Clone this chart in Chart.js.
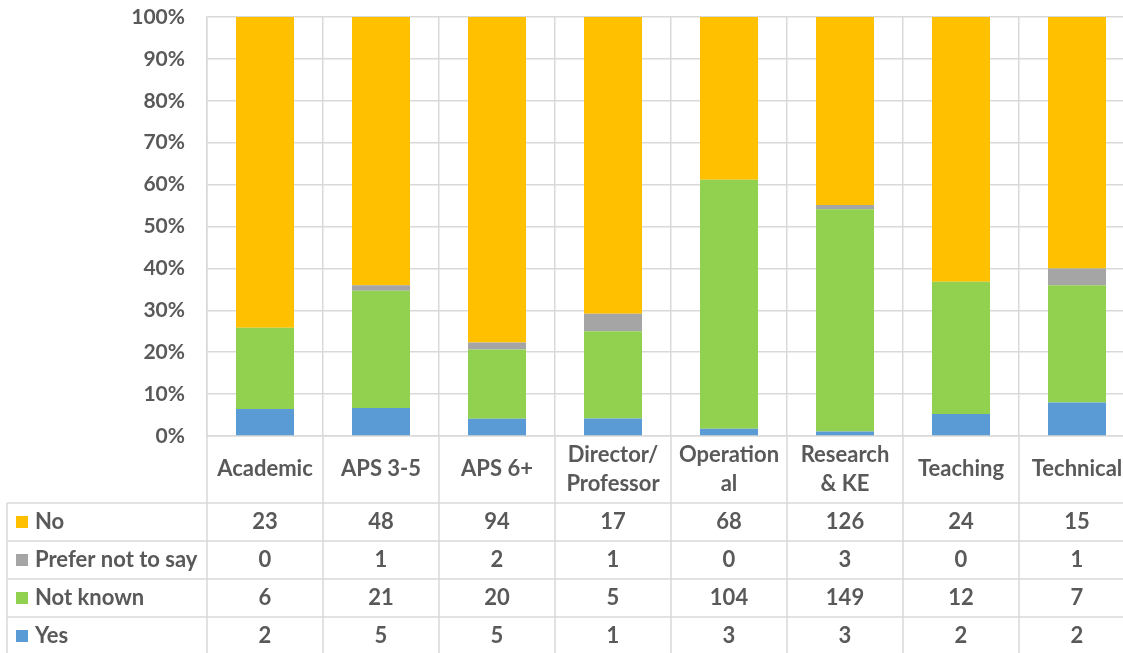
<!DOCTYPE html>
<html lang="en">
  <head>
    <meta charset="UTF-8" />
    <meta name="viewport" content="width=device-width, initial-scale=1.0" />
    <script src="https://cdn.jsdelivr.net/npm/chart.js@4.4.1/dist/chart.umd.min.js"></script>
    <title>Staff by category</title>
    <style>
      html, body { margin: 0; padding: 0; background: #fff; overflow: hidden; }
      #wrap { width: 1135px; height: 653px; position: relative; }
    </style>
  </head>
  <body>
    <div id="wrap">
      <canvas id="myChart"></canvas>
    </div>
    <script>
      // categories (multi-line labels like the excel table header)
      const categories = [
        ["Academic"],
        ["APS 3-5"],
        ["APS 6+"],
        ["Director/", "Professor"],
        ["Operation", "al"],
        ["Research", "& KE"],
        ["Teaching"],
        ["Technical"],
      ];
      const noCounts = [23, 48, 94, 17, 68, 126, 24, 15];
      const preferCounts = [0, 1, 2, 1, 0, 3, 0, 1];
      const notKnownCounts = [6, 21, 20, 5, 104, 149, 12, 7];
      const yesCounts = [2, 5, 5, 1, 3, 3, 2, 2];

      const colors = {
        no: "#FFC000",
        prefer: "#A5A5A5",
        notKnown: "#92D050",
        yes: "#5B9BD5",
      };
      const textColor = "#595959";
      const gridColor = "#d9d9d9";
      const fontFamily = "Lato, 'Open Sans', sans-serif";

      // 100% stacked -> percent of each column total
      const totals = noCounts.map(
        (v, i) => v + preferCounts[i] + notKnownCounts[i] + yesCounts[i]
      );
      function pct(arr) {
        return arr.map((v, i) => (v / totals[i]) * 100);
      }

      // rows of the data table, top to bottom
      const tableRows = [
        { label: "No", color: colors.no, values: noCounts },
        { label: "Prefer not to say", color: colors.prefer, values: preferCounts },
        { label: "Not known", color: colors.notKnown, values: notKnownCounts },
        { label: "Yes", color: colors.yes, values: yesCounts },
      ];

      const ROW_H = 38;
      const HEADER_H = 66;
      const LINE_H = 29;

      const tablePlugin = {
        id: "dataTable",
        afterDraw(chart) {
          const ctx = chart.ctx;
          const xs = chart.scales.x;
          const area = chart.chartArea;
          const half = (xs.getPixelForValue(1) - xs.getPixelForValue(0)) / 2;
          const tableTop = area.bottom + HEADER_H + 1;
          const bottom = chart.height + 5;
          const right = xs.getPixelForValue(categories.length - 1) + half;

          ctx.save();
          ctx.strokeStyle = gridColor;
          ctx.lineWidth = 1.5;

          // vertical column lines through header + table
          for (let i = 0; i <= categories.length; i++) {
            const x = xs.getPixelForValue(i) - half;
            ctx.beginPath();
            ctx.moveTo(x, area.bottom);
            ctx.lineTo(x, bottom);
            ctx.stroke();
          }
          // left border of row labels
          ctx.beginPath();
          ctx.moveTo(7, tableTop);
          ctx.lineTo(7, bottom);
          ctx.stroke();
          // horizontal row lines
          for (let r = 0; r <= tableRows.length; r++) {
            const y = tableTop + r * ROW_H;
            ctx.beginPath();
            ctx.moveTo(7, y);
            ctx.lineTo(right, y);
            ctx.stroke();
          }

          ctx.font = "bold 22px " + fontFamily;
          ctx.textBaseline = "middle";

          // header: category names centred in the header cell
          ctx.fillStyle = textColor;
          ctx.textAlign = "center";
          const headMid = area.bottom + HEADER_H / 2;
          categories.forEach((lines, i) => {
            const x = xs.getPixelForValue(i);
            const y0 = headMid - ((lines.length - 1) * LINE_H) / 2;
            lines.forEach((t, k) => ctx.fillText(t, x, y0 + k * LINE_H));
          });

          tableRows.forEach((row, r) => {
            const cy = tableTop + r * ROW_H + ROW_H / 2;
            ctx.fillStyle = row.color;
            ctx.fillRect(16, cy - 6, 12, 12);
            ctx.fillStyle = textColor;
            ctx.textAlign = "left";
            ctx.fillText(row.label, 35, cy);
            ctx.textAlign = "center";
            row.values.forEach((v, i) => {
              ctx.fillText(String(v), xs.getPixelForValue(i), cy);
            });
          });
          ctx.restore();
        },
      };

      const ctx = document.getElementById("myChart");
      new Chart(ctx, {
        type: "bar",
        data: {
          labels: categories,
          datasets: [
            { label: "Yes", data: pct(yesCounts), backgroundColor: colors.yes },
            { label: "Not known", data: pct(notKnownCounts), backgroundColor: colors.notKnown },
            { label: "Prefer not to say", data: pct(preferCounts), backgroundColor: colors.prefer },
            { label: "No", data: pct(noCounts), backgroundColor: colors.no },
          ],
        },
        options: {
          responsive: true,
          maintainAspectRatio: false,
          animation: false,
          datasets: {
            bar: { barPercentage: 1, categoryPercentage: 0.5, borderWidth: 0 },
          },
          layout: {
            padding: { top: 17, right: 0, bottom: 653 - 436 - HEADER_H, left: 0 },
          },
          plugins: {
            legend: { display: false },
            tooltip: { enabled: false },
          },
          scales: {
            x: {
              stacked: true,
              afterFit: (s) => {
                s.height = HEADER_H;
                s.paddingLeft = 0;
                s.paddingRight = 0;
              },
              grid: {
                color: gridColor,
                lineWidth: 1.5,
                drawTicks: false,
                offset: true,
              },
              border: { display: true, color: gridColor, width: 1.5 },
              ticks: { display: false },
            },
            y: {
              stacked: true,
              min: 0,
              max: 100,
              afterFit: (s) => {
                s.width = 207;
                s.paddingTop = 0;
                s.paddingBottom = 0;
              },
              grid: { color: gridColor, lineWidth: 1.5, drawTicks: false },
              border: { display: true, color: gridColor, width: 1.5 },
              ticks: {
                stepSize: 10,
                padding: 22,
                color: textColor,
                font: { family: fontFamily, size: 21, weight: "bold" },
                callback: (v) => v + "%",
              },
            },
          },
        },
        plugins: [tablePlugin],
      });
    </script>
  </body>
</html>
